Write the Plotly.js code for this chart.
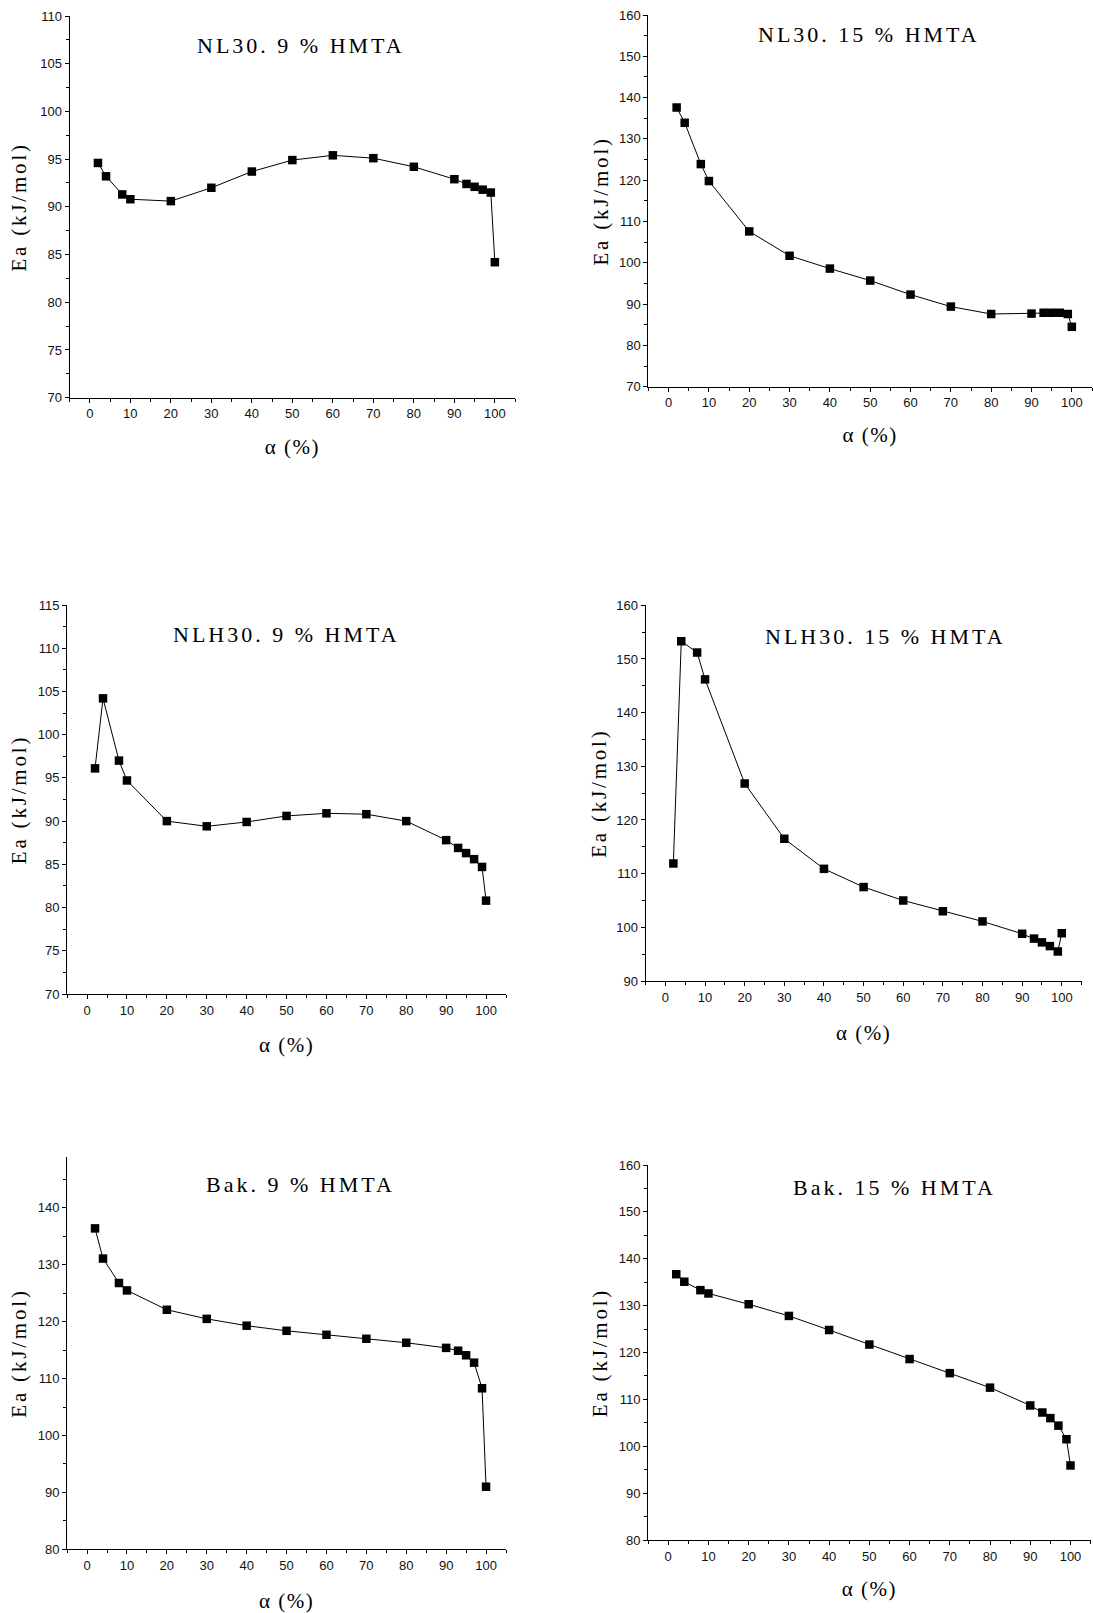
<!DOCTYPE html>
<html>
<head>
<meta charset="utf-8">
<script src="https://cdn.plot.ly/plotly-3.0.1.min.js"></script>
<style>
  html, body { margin: 0; padding: 0; background: #fff; }
  #chart { width: 1093px; height: 1613px; }
  .annotation-text { letter-spacing: 3px; }
  .ytitle, .y2title, .y3title, .y4title, .y5title, .y6title { letter-spacing: 2.8px; }
  .xtitle, .x2title, .x3title, .x4title, .x5title, .x6title { letter-spacing: 1.5px; }
</style>
</head>
<body>
<div id="chart"></div>
<script>
// ---- Data ----
const alpha = [2, 4, 8, 10, 20, 30, 40, 50, 60, 70, 80, 90, 93, 95, 97, 99, 100];

const eaNL30_9   = [94.6, 93.2, 91.3, 90.8, 90.6, 92.0, 93.7, 94.9, 95.4, 95.1, 94.2, 92.9, 92.4, 92.1, 91.8, 91.5, 84.2];
const eaNL30_15  = [137.6, 133.9, 123.9, 119.8, 107.6, 101.7, 98.6, 95.7, 92.3, 89.4, 87.6, 87.7, 87.9, 87.9, 87.9, 87.6, 84.5];
const eaNLH30_9  = [96.1, 104.2, 97.0, 94.7, 90.0, 89.4, 89.9, 90.6, 90.9, 90.8, 90.0, 87.8, 86.9, 86.3, 85.6, 84.7, 80.8];
const eaNLH30_15 = [111.9, 153.3, 151.2, 146.2, 126.8, 116.5, 110.9, 107.5, 105.0, 103.0, 101.1, 98.8, 97.9, 97.2, 96.5, 95.5, 98.9];
const eaBak_9    = [136.4, 131.1, 126.8, 125.5, 122.1, 120.5, 119.3, 118.4, 117.7, 117.0, 116.3, 115.4, 114.9, 114.1, 112.8, 108.3, 91.0];
const eaBak_15   = [136.7, 135.1, 133.3, 132.6, 130.3, 127.8, 124.8, 121.7, 118.6, 115.6, 112.5, 108.7, 107.2, 106.0, 104.4, 101.5, 95.9];

const panelTitles = ["NL30. 9 % HMTA", "NL30. 15 % HMTA", "NLH30. 9 % HMTA", "NLH30. 15 % HMTA", "Bak. 9 % HMTA", "Bak. 15 % HMTA"];
const xTitle = "α (%)";
const yTitle = "Ea (kJ/mol)";
const series = [eaNL30_9, eaNL30_15, eaNLH30_9, eaNLH30_15, eaBak_9, eaBak_15];

// ---- Layout geometry (page pixels) ----
const W = 1093, H = 1613;
const boxes = [
  {x0: 69.6,  x1: 515.1,  y0: 16,     y1: 397.7},
  {x0: 648.4, x1: 1092,   y0: 15,     y1: 386.7},
  {x0: 67.1,  x1: 506,    y0: 605,    y1: 994},
  {x0: 645.6, x1: 1081.6, y0: 605.3,  y1: 981},
  {x0: 67.1,  x1: 506,    y0: 1156.7, y1: 1549.3},
  {x0: 648.1, x1: 1090.6, y0: 1165,   y1: 1540}
];
const yRanges = [[70, 110], [70, 160], [70, 115], [90, 160], [80, 149], [80, 160]];
const yDticks = [5, 10, 5, 10, 10, 10];
const titlePos = [[0.52, 0.924], [0.497, 0.948], [0.5, 0.923], [0.55, 0.916], [0.532, 0.928], [0.557, 0.941]];
const xStandoff = [19, 18, 20, 21, 21, 18];
const yStandoff = [7, 4, 4.5, 3, 4.5, 5];

const tickFont = {family: "Liberation Sans, Arial, sans-serif", size: 13, color: "#111"};
const serif = "Liberation Serif, Times New Roman, serif";

const traces = [];
const layout = {
  width: W, height: H,
  margin: {l: 0, r: 0, t: 0, b: 0},
  paper_bgcolor: "#fff", plot_bgcolor: "#fff",
  showlegend: false,
  hovermode: false,
  annotations: []
};

series.forEach((ys, i) => {
  const n = i === 0 ? "" : String(i + 1);
  traces.push({
    type: "scatter", mode: "lines+markers",
    x: alpha, y: ys,
    xaxis: "x" + n, yaxis: "y" + n,
    line: {color: "#000", width: 1},
    marker: {symbol: "square", size: 8.5, color: "#000"},
    cliponaxis: false
  });
  const b = boxes[i];
  const common = {
    showline: true, linecolor: "#000", linewidth: 1,
    showgrid: false, zeroline: false,
    ticks: "outside", ticklen: 4, tickwidth: 1, tickcolor: "#000",
    tickfont: tickFont
  };
  layout["xaxis" + n] = Object.assign({}, common, {
    domain: [b.x0 / W, b.x1 / W],
    anchor: "y" + n,
    range: [-5, 105],
    tick0: 0, dtick: 10,
    minor: {ticks: "outside", ticklen: 3, dtick: 5, tick0: 0, tickcolor: "#000", tickwidth: 1, showgrid: false},
    title: {text: xTitle, font: {family: serif, size: 21, color: "#000"}, standoff: xStandoff[i]}
  });
  layout["yaxis" + n] = Object.assign({}, common, {
    domain: [1 - b.y1 / H, 1 - b.y0 / H],
    anchor: "x" + n,
    range: yRanges[i],
    tick0: 0, dtick: yDticks[i],
    minor: {ticks: "outside", ticklen: 3, dtick: yDticks[i] / 2, tick0: 0, tickcolor: "#000", tickwidth: 1, showgrid: false},
    title: {text: yTitle, font: {family: serif, size: 21, color: "#000"}, standoff: yStandoff[i]}
  });
  layout.annotations.push({
    text: panelTitles[i],
    xref: "x" + n + " domain", yref: "y" + n + " domain",
    x: titlePos[i][0], y: titlePos[i][1],
    xanchor: "center", yanchor: "middle",
    showarrow: false,
    font: {family: serif, size: 22, color: "#000"}
  });
});

Plotly.newPlot("chart", traces, layout, {staticPlot: true, displayModeBar: false});
</script>
</body>
</html>
